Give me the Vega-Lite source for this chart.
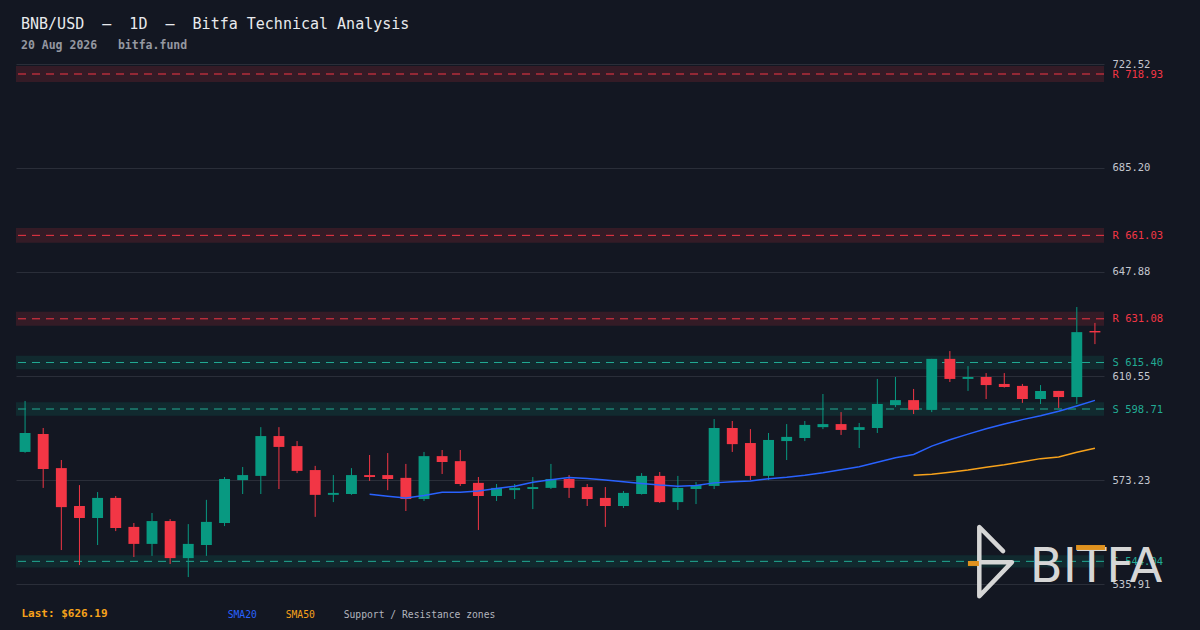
{
  "$schema": "https://vega.github.io/schema/vega-lite/v6.json",
  "width": 1088,
  "height": 520,
  "autosize": {"type": "none"},
  "padding": {"left": 16, "top": 64, "right": 96, "bottom": 46},
  "background": "#131722",
  "title": {
    "text": "BNB/USD\u00a0\u00a0–\u00a0\u00a01D\u00a0\u00a0–\u00a0\u00a0Bitfa Technical Analysis",
    "subtitle": "20 Aug 2026\u00a0\u00a0\u00a0bitfa.fund",
    "anchor": "start",
    "frame": "group",
    "orient": "top",
    "offset": 8,
    "dx": 5,
    "font": "DejaVu Sans Mono",
    "fontSize": 15,
    "fontWeight": "normal",
    "color": "#e8eaed",
    "subtitleFont": "DejaVu Sans Mono",
    "subtitleFontSize": 11.5,
    "subtitleFontWeight": "bold",
    "subtitleColor": "#9598a1",
    "subtitlePadding": 8
  },
  "config": {
    "view": {"stroke": null},
    "legend": {
      "orient": "none",
      "legendX": 202,
      "legendY": 546,
      "direction": "horizontal",
      "padding": 0,
      "symbolSize": 0,
      "symbolStrokeWidth": 0,
      "symbolOpacity": 0,
      "labelOffset": 0,
      "columnPadding": 19,
      "labelFont": "DejaVu Sans Mono",
      "labelFontSize": 9.7,
      "labelLimit": 300
    }
  },
  "datasets": {
    "candles": [
      {"d": "2026-06-22", "o": 583.3, "h": 601.6, "l": 583.0, "c": 590.1},
      {"d": "2026-06-23", "o": 589.7, "h": 591.9, "l": 570.4, "c": 577.2},
      {"d": "2026-06-24", "o": 577.5, "h": 580.4, "l": 548.1, "c": 563.5},
      {"d": "2026-06-25", "o": 563.9, "h": 571.4, "l": 542.7, "c": 559.6},
      {"d": "2026-06-26", "o": 559.6, "h": 568.9, "l": 549.9, "c": 566.8},
      {"d": "2026-06-27", "o": 566.8, "h": 567.5, "l": 554.9, "c": 556.0},
      {"d": "2026-06-28", "o": 556.4, "h": 557.8, "l": 545.6, "c": 550.3},
      {"d": "2026-06-29", "o": 550.3, "h": 561.4, "l": 546.0, "c": 558.5},
      {"d": "2026-06-30", "o": 558.5, "h": 559.2, "l": 543.1, "c": 545.2},
      {"d": "2026-07-01", "o": 545.2, "h": 557.4, "l": 538.4, "c": 550.3},
      {"d": "2026-07-02", "o": 549.9, "h": 566.1, "l": 546.0, "c": 558.2},
      {"d": "2026-07-03", "o": 557.8, "h": 574.3, "l": 556.7, "c": 573.6},
      {"d": "2026-07-04", "o": 573.2, "h": 577.9, "l": 568.2, "c": 575.0},
      {"d": "2026-07-05", "o": 574.7, "h": 592.2, "l": 568.2, "c": 589.0},
      {"d": "2026-07-06", "o": 589.0, "h": 592.2, "l": 570.0, "c": 585.1},
      {"d": "2026-07-07", "o": 585.4, "h": 587.2, "l": 575.7, "c": 576.5},
      {"d": "2026-07-08", "o": 576.8, "h": 578.3, "l": 560.0, "c": 567.9},
      {"d": "2026-07-09", "o": 567.9, "h": 575.0, "l": 565.3, "c": 568.6},
      {"d": "2026-07-10", "o": 568.2, "h": 577.5, "l": 567.9, "c": 575.0},
      {"d": "2026-07-11", "o": 575.0, "h": 582.2, "l": 572.9, "c": 574.3},
      {"d": "2026-07-12", "o": 575.0, "h": 582.9, "l": 569.6, "c": 573.6},
      {"d": "2026-07-13", "o": 574.0, "h": 579.0, "l": 562.1, "c": 566.4},
      {"d": "2026-07-14", "o": 566.4, "h": 583.3, "l": 565.7, "c": 581.8},
      {"d": "2026-07-15", "o": 581.8, "h": 584.0, "l": 575.4, "c": 579.7},
      {"d": "2026-07-16", "o": 580.0, "h": 584.0, "l": 571.1, "c": 571.8},
      {"d": "2026-07-17", "o": 572.2, "h": 574.3, "l": 555.3, "c": 567.5},
      {"d": "2026-07-18", "o": 567.5, "h": 571.8, "l": 565.7, "c": 570.4},
      {"d": "2026-07-19", "o": 569.6, "h": 571.8, "l": 566.4, "c": 570.4},
      {"d": "2026-07-20", "o": 570.0, "h": 574.3, "l": 562.8, "c": 570.7},
      {"d": "2026-07-21", "o": 570.4, "h": 579.0, "l": 570.0, "c": 573.6},
      {"d": "2026-07-22", "o": 573.6, "h": 575.0, "l": 566.8, "c": 570.4},
      {"d": "2026-07-23", "o": 570.7, "h": 571.8, "l": 563.9, "c": 566.4},
      {"d": "2026-07-24", "o": 566.8, "h": 570.7, "l": 556.4, "c": 563.9},
      {"d": "2026-07-25", "o": 563.9, "h": 569.3, "l": 563.2, "c": 568.6},
      {"d": "2026-07-26", "o": 568.2, "h": 575.7, "l": 568.0, "c": 574.7},
      {"d": "2026-07-27", "o": 574.7, "h": 576.1, "l": 565.0, "c": 565.3},
      {"d": "2026-07-28", "o": 565.3, "h": 574.7, "l": 562.5, "c": 570.4},
      {"d": "2026-07-29", "o": 570.0, "h": 572.5, "l": 564.6, "c": 571.4},
      {"d": "2026-07-30", "o": 571.1, "h": 595.1, "l": 570.0, "c": 591.9},
      {"d": "2026-07-31", "o": 591.9, "h": 594.4, "l": 583.3, "c": 586.1},
      {"d": "2026-08-01", "o": 586.5, "h": 591.5, "l": 573.2, "c": 574.7},
      {"d": "2026-08-02", "o": 574.7, "h": 590.1, "l": 573.2, "c": 587.6},
      {"d": "2026-08-03", "o": 587.2, "h": 593.3, "l": 580.4, "c": 588.7},
      {"d": "2026-08-04", "o": 588.3, "h": 594.4, "l": 587.2, "c": 593.0},
      {"d": "2026-08-05", "o": 592.2, "h": 604.1, "l": 591.5, "c": 593.3},
      {"d": "2026-08-06", "o": 593.3, "h": 597.6, "l": 589.4, "c": 591.2},
      {"d": "2026-08-07", "o": 591.2, "h": 593.7, "l": 584.7, "c": 592.2},
      {"d": "2026-08-08", "o": 591.9, "h": 609.5, "l": 590.1, "c": 600.5},
      {"d": "2026-08-09", "o": 600.1, "h": 610.2, "l": 599.4, "c": 601.9},
      {"d": "2026-08-10", "o": 601.9, "h": 605.9, "l": 596.9, "c": 598.4},
      {"d": "2026-08-11", "o": 598.4, "h": 616.7, "l": 597.6, "c": 616.7},
      {"d": "2026-08-12", "o": 616.7, "h": 619.5, "l": 608.4, "c": 609.5},
      {"d": "2026-08-13", "o": 609.5, "h": 614.1, "l": 605.2, "c": 610.2},
      {"d": "2026-08-14", "o": 610.2, "h": 611.6, "l": 602.3, "c": 607.3},
      {"d": "2026-08-15", "o": 607.7, "h": 611.6, "l": 606.4, "c": 606.6},
      {"d": "2026-08-16", "o": 607.0, "h": 607.7, "l": 600.9, "c": 602.3},
      {"d": "2026-08-17", "o": 602.3, "h": 607.3, "l": 600.5, "c": 605.2},
      {"d": "2026-08-18", "o": 605.2, "h": 605.2, "l": 599.1, "c": 603.0},
      {"d": "2026-08-19", "o": 603.0, "h": 635.3, "l": 600.5, "c": 626.3},
      {"d": "2026-08-20", "o": 626.7, "h": 629.6, "l": 622.0, "c": 626.19}
    ],
    "sma": [
      {"d": "2026-07-11", "series": "SMA20", "v": 568.1},
      {"d": "2026-07-12", "series": "SMA20", "v": 567.4},
      {"d": "2026-07-13", "series": "SMA20", "v": 566.8},
      {"d": "2026-07-14", "series": "SMA20", "v": 567.7},
      {"d": "2026-07-15", "series": "SMA20", "v": 568.8},
      {"d": "2026-07-16", "series": "SMA20", "v": 568.8},
      {"d": "2026-07-17", "series": "SMA20", "v": 569.3},
      {"d": "2026-07-18", "series": "SMA20", "v": 570.2},
      {"d": "2026-07-19", "series": "SMA20", "v": 571.0},
      {"d": "2026-07-20", "series": "SMA20", "v": 572.4},
      {"d": "2026-07-21", "series": "SMA20", "v": 573.3},
      {"d": "2026-07-22", "series": "SMA20", "v": 574.1},
      {"d": "2026-07-23", "series": "SMA20", "v": 573.8},
      {"d": "2026-07-24", "series": "SMA20", "v": 573.2},
      {"d": "2026-07-25", "series": "SMA20", "v": 572.6},
      {"d": "2026-07-26", "series": "SMA20", "v": 572.0},
      {"d": "2026-07-27", "series": "SMA20", "v": 571.4},
      {"d": "2026-07-28", "series": "SMA20", "v": 571.0},
      {"d": "2026-07-29", "series": "SMA20", "v": 571.3},
      {"d": "2026-07-30", "series": "SMA20", "v": 572.2},
      {"d": "2026-07-31", "series": "SMA20", "v": 572.6},
      {"d": "2026-08-01", "series": "SMA20", "v": 572.9},
      {"d": "2026-08-02", "series": "SMA20", "v": 573.7},
      {"d": "2026-08-03", "series": "SMA20", "v": 574.2},
      {"d": "2026-08-04", "series": "SMA20", "v": 574.9},
      {"d": "2026-08-05", "series": "SMA20", "v": 575.8},
      {"d": "2026-08-06", "series": "SMA20", "v": 576.9},
      {"d": "2026-08-07", "series": "SMA20", "v": 578.0},
      {"d": "2026-08-08", "series": "SMA20", "v": 579.6},
      {"d": "2026-08-09", "series": "SMA20", "v": 581.2},
      {"d": "2026-08-10", "series": "SMA20", "v": 582.4},
      {"d": "2026-08-11", "series": "SMA20", "v": 585.4},
      {"d": "2026-08-12", "series": "SMA20", "v": 587.7},
      {"d": "2026-08-13", "series": "SMA20", "v": 589.7},
      {"d": "2026-08-14", "series": "SMA20", "v": 591.6},
      {"d": "2026-08-15", "series": "SMA20", "v": 593.3},
      {"d": "2026-08-16", "series": "SMA20", "v": 594.9},
      {"d": "2026-08-17", "series": "SMA20", "v": 596.3},
      {"d": "2026-08-18", "series": "SMA20", "v": 597.9},
      {"d": "2026-08-19", "series": "SMA20", "v": 599.8},
      {"d": "2026-08-20", "series": "SMA20", "v": 601.8},
      {"d": "2026-08-10", "series": "SMA50", "v": 574.9},
      {"d": "2026-08-11", "series": "SMA50", "v": 575.3},
      {"d": "2026-08-12", "series": "SMA50", "v": 576.0},
      {"d": "2026-08-13", "series": "SMA50", "v": 576.8},
      {"d": "2026-08-14", "series": "SMA50", "v": 577.8},
      {"d": "2026-08-15", "series": "SMA50", "v": 578.7},
      {"d": "2026-08-16", "series": "SMA50", "v": 579.8},
      {"d": "2026-08-17", "series": "SMA50", "v": 580.9},
      {"d": "2026-08-18", "series": "SMA50", "v": 581.5},
      {"d": "2026-08-19", "series": "SMA50", "v": 583.2},
      {"d": "2026-08-20", "series": "SMA50", "v": 584.6}
    ],
    "zones": [
      {"kind": "R", "price": 718.93, "lo": 716.05, "hi": 721.81},
      {"kind": "R", "price": 661.03, "lo": 658.39, "hi": 663.67},
      {"kind": "R", "price": 631.08, "lo": 628.56, "hi": 633.6},
      {"kind": "S", "price": 615.4, "lo": 612.94, "hi": 617.86},
      {"kind": "S", "price": 598.71, "lo": 596.32, "hi": 601.1},
      {"kind": "S", "price": 544.04, "lo": 541.86, "hi": 546.22}
    ]
  },
  "layer": [
    {
      "data": {"name": "zones"},
      "mark": {"type": "rect", "opacity": 0.15},
      "encoding": {
        "y": {"field": "lo", "type": "quantitative", "title": null},
        "y2": {"field": "hi"},
        "color": {"condition": {"test": "datum.kind == 'R'", "value": "#f23645"}, "value": "#089981"}
      }
    },
    {
      "data": {"name": "zones"},
      "mark": {"type": "rule", "strokeDash": [8, 6], "strokeWidth": 1},
      "encoding": {
        "y": {"field": "price", "type": "quantitative", "title": null},
        "color": {"condition": {"test": "datum.kind == 'R'", "value": "#f23645"}, "value": "#22ab94"}
      }
    },
    {
      "data": {"name": "candles"},
      "mark": {"type": "rule", "strokeWidth": 1},
      "encoding": {
        "x": {
          "field": "d",
          "type": "ordinal",
          "scale": {"paddingInner": 0.4, "paddingOuter": 0.2},
          "axis": {
            "labels": false,
            "ticks": false,
            "domain": false,
            "grid": false,
            "title": "Last: $626.19",
            "titleAnchor": "start",
            "titleAlign": "left",
            "titleX": 5,
            "titleY": 29,
            "titleBaseline": "middle",
            "titleColor": "#f7a21b",
            "titleFont": "DejaVu Sans Mono",
            "titleFontSize": 11,
            "titleFontWeight": "bold"
          }
        },
        "y": {
          "field": "l",
          "type": "quantitative",
          "scale": {"domain": [535.91, 722.52], "nice": false, "zero": false},
          "axis": {
            "orient": "right",
            "title": null,
            "values": [535.91, 544.04, 573.23, 598.71, 610.55, 615.4, 631.08, 647.88, 661.03, 685.2, 718.93, 722.52],
            "format": ".2f",
            "domain": false,
            "ticks": false,
            "labelPadding": 8,
            "labelFont": "DejaVu Sans Mono",
            "labelFontSize": 10.5,
            "labelOverlap": false,
            "labelFlush": false,
            "labelBound": false,
            "labelBaseline": "middle",
            "labelExpr": "indexof(['718.93','661.03','631.08'], datum.label) >= 0 ? 'R ' + datum.label : (indexof(['615.40','598.71','544.04'], datum.label) >= 0 ? 'S ' + datum.label : datum.label)",
            "labelColor": {
              "condition": [
                {"test": "datum.value == 718.93 || datum.value == 661.03 || datum.value == 631.08", "value": "#f23645"},
                {"test": "datum.value == 615.4 || datum.value == 598.71 || datum.value == 544.04", "value": "#22ab94"}
              ],
              "value": "#c3c6ce"
            },
            "grid": true,
            "gridColor": "#2a2e39",
            "gridWidth": 1,
            "gridOpacity": {
              "condition": {"test": "datum.value == 718.93 || datum.value == 661.03 || datum.value == 631.08 || datum.value == 615.4 || datum.value == 598.71 || datum.value == 544.04", "value": 0},
              "value": 1
            }
          }
        },
        "y2": {"field": "h"},
        "color": {"condition": {"test": "datum.c >= datum.o", "value": "#089981"}, "value": "#f23645"}
      }
    },
    {
      "data": {"name": "candles"},
      "mark": {"type": "bar"},
      "encoding": {
        "x": {"field": "d", "type": "ordinal"},
        "y": {"field": "o", "type": "quantitative", "title": null},
        "y2": {"field": "c"},
        "color": {"condition": {"test": "datum.c >= datum.o", "value": "#089981"}, "value": "#f23645"}
      }
    },
    {
      "data": {"name": "sma"},
      "mark": {"type": "line", "strokeWidth": 1.5},
      "encoding": {
        "x": {"field": "d", "type": "ordinal"},
        "y": {"field": "v", "type": "quantitative", "title": null},
        "color": {
          "field": "series",
          "type": "nominal",
          "scale": {"domain": ["SMA20", "SMA50", "Support / Resistance zones"], "range": ["#2962ff", "#f7a21b", "#b2b5be"]},
          "legend": {
            "title": null,
            "encode": {"labels": {"update": {"fill": {"scale": "color", "field": "value"}}}}
          }
        }
      }
    },
    {
      "data": {"values": [{}]},
      "mark": {"type": "text", "text": "BITFA", "font": "DejaVu Sans", "fontSize": 48, "align": "center", "baseline": "alphabetic", "color": "#d6d6d6"},
      "encoding": {
        "x": {"datum": "2026-08-20", "type": "ordinal", "bandPosition": 0.6},
        "y": {"datum": 536.63, "type": "quantitative"}
      }
    },
    {
      "data": {"values": [{}]},
      "mark": {"type": "point", "shape": "M0.12,-0.32L-0.55,-1L-0.55,0.95L0.37,-0.01L-0.53,-0.01", "filled": false, "size": 5041, "strokeWidth": 4.5, "strokeCap": "round", "strokeJoin": "round", "color": "#d6d6d6", "opacity": 1},
      "encoding": {
        "x": {"datum": "2026-08-15", "type": "ordinal", "bandPosition": 0},
        "y": {"datum": 543.62, "type": "quantitative"}
      }
    },
    {
      "data": {"values": [{}]},
      "mark": {"type": "point", "shape": "M-1,-0.17L1,-0.17L1,0.17L-1,0.17Z", "filled": true, "size": 841, "color": "#e0921e", "opacity": 1},
      "encoding": {
        "x": {"datum": "2026-08-20", "type": "ordinal", "bandPosition": 0.1},
        "y": {"datum": 549.01, "type": "quantitative"}
      }
    },
    {
      "data": {"values": [{}]},
      "mark": {"type": "point", "shape": "M-1,-0.45L1,-0.45L1,0.45L-1,0.45Z", "filled": true, "size": 121, "color": "#e0921e", "opacity": 1},
      "encoding": {
        "x": {"datum": "2026-08-13", "type": "ordinal", "bandPosition": 1},
        "y": {"datum": 543.27, "type": "quantitative"}
      }
    }
  ]
}
